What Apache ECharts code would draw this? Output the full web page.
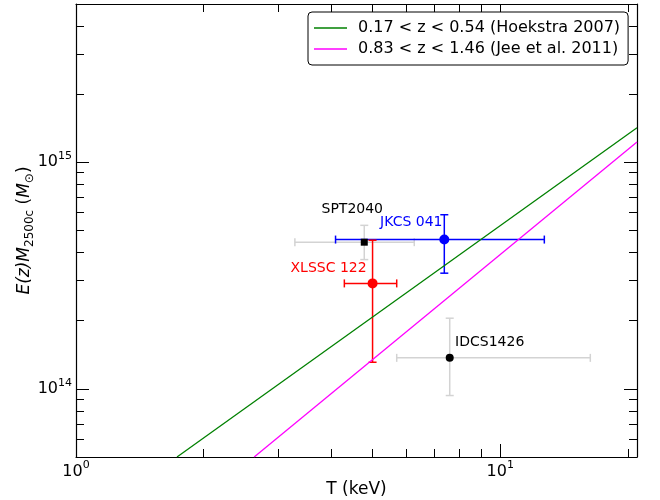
<!DOCTYPE html>
<html>
<head>
    <meta charset="utf-8">
    <script src="https://cdn.jsdelivr.net/npm/echarts@6.0.0/dist/echarts.min.js"></script>
</head>
<body style="margin:0">
    <div id="echartsMain" style="width: 660px; height: 500px;"></div>
</body>
</html>

<script type="text/javascript">
    // clusters (T in keV, mass in Msun)
    const clusterNames = ['SPT2040', 'JKCS 041', 'XLSSC 122', 'IDCS1426']
    const clusterT = [4.78, 7.38, 5.0, 7.6]
    const clusterTLow = [3.28, 4.09, 4.29, 5.70]
    const clusterTHigh = [6.27, 12.7, 5.70, 16.3]
    const clusterM = [4.44e14, 4.56e14, 2.92e14, 1.37e14]
    const clusterMLow = [3.72e14, 3.24e14, 1.31e14, 9.34e13]
    const clusterMHigh = [5.27e14, 5.87e14, 4.53e14, 2.05e14]

    // scaling relations
    const hoekstraT = [1.73, 21]
    const hoekstraM = [5.0e13, 1.42e15]
    const jeeT = [2.63, 21]
    const jeeM = [5.0e13, 1.23e15]

    // axes
    const xRange = [1, 21]
    const yRange = [5e13, 5e15]
    const xMajorTicks = [1, 10]
    const xMinorTicks = [2, 3, 4, 5, 6, 7, 8, 9, 20]
    const yMajorTicks = [1e14, 1e15]
    const yMinorTicks = [6e13, 7e13, 8e13, 9e13, 2e14, 3e14, 4e14, 5e14, 6e14, 7e14, 8e14, 9e14, 2e15, 3e15, 4e15]

    const lg = Math.log10
    const FONT = 'DejaVu Sans'

    const errColors = ['#d3d3d3', '#0000ff', '#ff0000', '#d3d3d3']
    const markerStyles = [
        { symbol: 'rect', size: 7, color: '#000000', offset: [-12, -33] },
        { symbol: 'circle', size: 10, color: '#0000ff', offset: [-33, -17] },
        { symbol: 'circle', size: 10, color: '#ff0000', offset: [-44, -15] },
        { symbol: 'circle', size: 8, color: '#000000', offset: [40, -15] }
    ]

    function powLabel(v) {
        return '{b|10}{sup|' + Math.round(v) + '}'
    }
    const powRich = {
        b: { fontSize: 16, fontFamily: FONT, color: '#000' },
        sup: { fontSize: 11, fontFamily: FONT, color: '#000', padding: [0, 0, 12, 0] }
    }

    function makeAxis(position, range, ticks, len, extra) {
        return Object.assign({
            type: 'value',
            position: position,
            min: lg(range[0]),
            max: lg(range[1]),
            splitLine: { show: false },
            axisLine: { show: false, onZero: false },
            axisLabel: { show: false },
            axisTick: {
                show: true, inside: true, length: len,
                customValues: ticks.map(lg),
                lineStyle: { color: '#000', width: 1 }
            }
        }, extra || {})
    }

    const frameLine = { show: true, onZero: false, lineStyle: { color: '#000', width: 1.2 } }

    function draw() {
        let myChart = echarts.init(document.getElementById('echartsMain'))

        const errData = clusterNames.map((n, i) => [
            lg(clusterT[i]), lg(clusterM[i]),
            lg(clusterTLow[i]), lg(clusterTHigh[i]),
            lg(clusterMLow[i]), lg(clusterMHigh[i])
        ])

        const pointData = clusterNames.map((n, i) => ({
            name: n,
            value: [lg(clusterT[i]), lg(clusterM[i])],
            symbol: markerStyles[i].symbol,
            symbolSize: markerStyles[i].size,
            itemStyle: { color: markerStyles[i].color, opacity: 1 },
            label: {
                show: true, position: 'inside', offset: markerStyles[i].offset,
                formatter: '{b}', color: markerStyles[i].color,
                fontSize: 14, fontFamily: FONT
            }
        }))

        var option = {
            animation: false,
            grid: { left: 76, right: 23, top: 4, bottom: 43, outerBoundsMode: 'none', containLabel: false },
            legend: {
                data: ['0.17 < z < 0.54 (Hoekstra 2007)', '0.83 < z < 1.46 (Jee et al. 2011)'],
                orient: 'vertical',
                left: 308,
                top: 12,
                padding: [8, 8, 8, 6],
                itemGap: 5,
                itemWidth: 33,
                itemHeight: 1.5,
                icon: 'rect',
                borderColor: '#000',
                borderWidth: 1,
                borderRadius: 4,
                backgroundColor: '#fff',
                textStyle: { fontSize: 16, fontFamily: FONT, color: '#000', padding: [0, 0, 0, 6] }
            },
            xAxis: [
                makeAxis('bottom', xRange, xMajorTicks, 13, {
                    axisLine: frameLine,
                    axisLabel: {
                        show: true, margin: 3, customValues: xMajorTicks.map(lg),
                        formatter: powLabel, rich: powRich
                    },
                    name: 'T (keV)',
                    nameLocation: 'middle',
                    nameGap: 24,
                    nameMoveOverlap: false,
                    nameTextStyle: { fontSize: 17, fontFamily: FONT, color: '#000' }
                }),
                makeAxis('bottom', xRange, xMinorTicks, 8),
                makeAxis('top', xRange, xMajorTicks, 13, { axisLine: frameLine }),
                makeAxis('top', xRange, xMinorTicks, 8)
            ],
            yAxis: [
                makeAxis('left', yRange, yMajorTicks, 13, {
                    axisLine: frameLine,
                    axisLabel: {
                        show: true, margin: 4, customValues: yMajorTicks.map(lg),
                        formatter: powLabel, rich: powRich
                    },
                    name: '{i|E(z)M}{s|2500c}{n| (}{i|M}{s|⊙}{n|)}',
                    nameLocation: 'middle',
                    nameGap: 40,
                    nameMoveOverlap: false,
                    nameTextStyle: {
                        fontSize: 17, fontFamily: FONT, color: '#000',
                        rich: {
                            i: { fontSize: 17, fontFamily: FONT, fontStyle: 'italic', color: '#000' },
                            n: { fontSize: 17, fontFamily: FONT, color: '#000' },
                            s: { fontSize: 12, fontFamily: FONT, color: '#000', padding: [10, 0, 0, 0] }
                        }
                    }
                }),
                makeAxis('left', yRange, yMinorTicks, 8),
                makeAxis('right', yRange, yMajorTicks, 13, { axisLine: frameLine }),
                makeAxis('right', yRange, yMinorTicks, 8)
            ],
            series: [
                {
                    name: '0.17 < z < 0.54 (Hoekstra 2007)',
                    type: 'line',
                    symbol: 'none',
                    color: '#008000',
                    lineStyle: { width: 1.3 },
                    data: hoekstraT.map((t, i) => [lg(t), lg(hoekstraM[i])])
                },
                {
                    name: '0.83 < z < 1.46 (Jee et al. 2011)',
                    type: 'line',
                    symbol: 'none',
                    color: '#ff00ff',
                    lineStyle: { width: 1.3 },
                    data: jeeT.map((t, i) => [lg(t), lg(jeeM[i])])
                },
                {
                    type: 'custom',
                    encode: { x: [0, 2, 3], y: [1, 4, 5] },
                    data: errData,
                    z: 3,
                    renderItem: function (params, api) {
                        const i = params.dataIndex
                        const c = errColors[i]
                        const l = api.coord([api.value(2), api.value(1)])
                        const r = api.coord([api.value(3), api.value(1)])
                        const b = api.coord([api.value(0), api.value(4)])
                        const t = api.coord([api.value(0), api.value(5)])
                        const cap = 4
                        const st = { stroke: c, lineWidth: 1.5 }
                        const seg = (x1, y1, x2, y2) => ({ type: 'line', shape: { x1, y1, x2, y2 }, style: st })
                        return {
                            type: 'group',
                            children: [
                                seg(l[0], l[1], r[0], r[1]),
                                seg(b[0], b[1], t[0], t[1]),
                                seg(l[0], l[1] - cap, l[0], l[1] + cap),
                                seg(r[0], r[1] - cap, r[0], r[1] + cap),
                                seg(b[0] - cap, b[1], b[0] + cap, b[1]),
                                seg(t[0] - cap, t[1], t[0] + cap, t[1])
                            ]
                        }
                    }
                },
                {
                    type: 'scatter',
                    z: 4,
                    data: pointData
                }
            ]
        }
        myChart.setOption(option)
    }

    draw()
</script>
